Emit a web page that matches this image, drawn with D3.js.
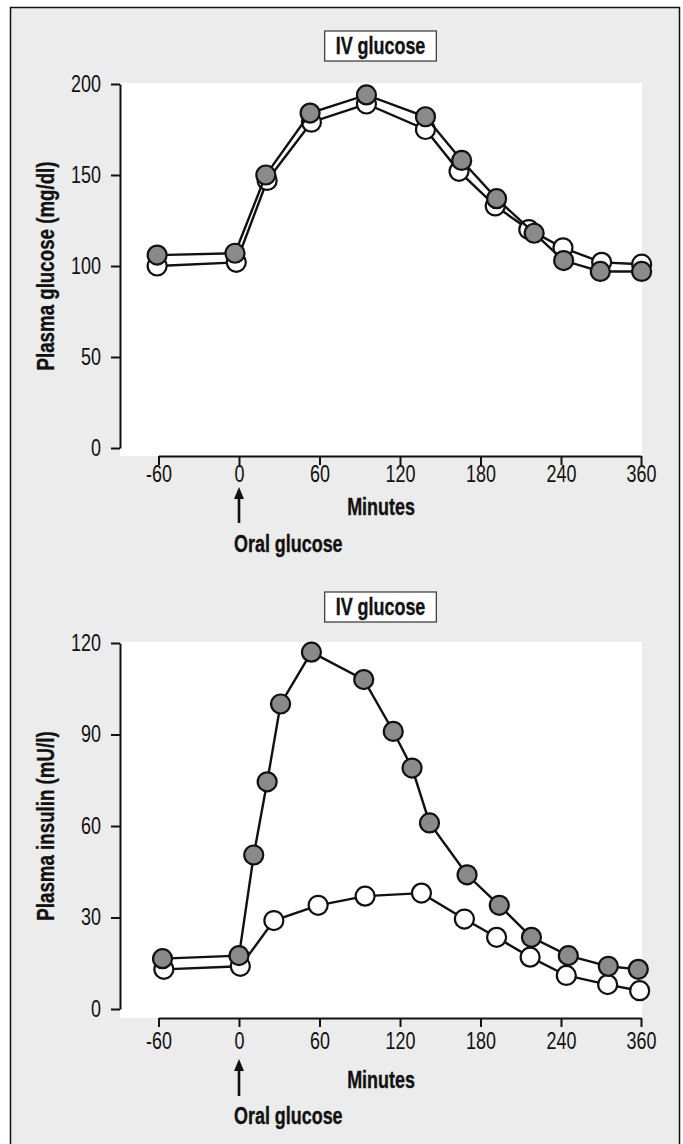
<!DOCTYPE html>
<html>
<head>
<meta charset="utf-8">
<script src="https://cdn.jsdelivr.net/npm/d3@7/dist/d3.min.js"></script>
<style>
  html, body { margin: 0; padding: 0; background: #fff; }
  svg { display: block; }
  text { font-family: "Liberation Sans", Arial, Helvetica, sans-serif; fill: #111; }
</style>
</head>
<body>
<div id="chart"></div>
<script>
// ---------- data ----------
const xTickValues = [-60, 0, 60, 120, 180, 240, 360];
const xTickLabels = ["-60", "0", "60", "120", "180", "240", "360"];

const glucoseTicks = [0, 50, 100, 150, 200];
const insulinTicks = [0, 30, 60, 90, 120];

// Plasma glucose (mg/dl) — open circles (oral) and filled circles (IV)
const glucoseOralTimes  = [-61, -2, 21, 54, 95, 139, 164, 191, 216, 243, 301, 361];
const glucoseOralValues = [100, 102, 147, 179, 189, 175, 152, 133, 120, 110, 102, 101];
const glucoseIVTimes    = [-61, -3, 20, 53, 95, 139, 166, 192, 220, 244, 299, 361];
const glucoseIVValues   = [106, 107, 150, 184, 194, 182, 158, 137, 118, 103, 97, 97];

// Plasma insulin (mU/l)
const insulinOralTimes  = [-56, 1, 26, 59, 94, 136, 168, 192, 217, 248, 310, 358];
const insulinOralValues = [13, 14, 29, 34, 37, 38, 29.5, 23.5, 17, 11, 8, 6];
const insulinIVTimes    = [-57, 0, 11, 21, 31, 54, 93, 115, 129, 142, 170, 194, 218, 251, 311, 356];
const insulinIVValues   = [16.5, 17.5, 50.5, 74.5, 100, 117, 108, 91, 79, 61, 44, 34, 23.5, 17.5, 14, 13];

// ---------- layout ----------
const W = 683, H = 1144;
const SX = 0.78; // horizontal condensing of the type
const svg = d3.select("#chart").append("svg").attr("width", W).attr("height", H);

svg.append("rect").attr("x", 0).attr("y", 0).attr("width", W).attr("height", H).attr("fill", "#fff");
svg.append("rect").attr("x", 10.5).attr("y", 7.5).attr("width", 669).attr("height", H + 20)
  .attr("fill", "#ececec").attr("stroke", "#111").attr("stroke-width", 1.5);

const x = d3.scaleLinear().domain([-60, 240, 360]).range([158.5, 561, 641]);

function label(g, tx, ty, txt, opts = {}) {
  return g.append("text")
    .attr("transform", `translate(${tx},${ty})${opts.rotate ? " rotate(" + opts.rotate + ")" : ""} scale(${SX},1)`)
    .attr("text-anchor", opts.anchor || "middle")
    .attr("dominant-baseline", "central")
    .attr("font-weight", opts.weight || "bold")
    .attr("font-size", opts.size || 23)
    .attr("stroke", "#111").attr("stroke-width", 0.35)
    .text(txt);
}

function condenseAxisText(sel) {
  sel.selectAll("text").each(function () {
    const t = d3.select(this);
    const tx = +t.attr("x") || 0, ty = +t.attr("y") || 0;
    t.attr("x", 0).attr("y", 0).attr("transform", `translate(${tx},${ty}) scale(${SX},1)`)
      .attr("font-size", 23).attr("fill", "#111");
  });
  sel.attr("font-family", null);
}

function panel(cfg) {
  const g = svg.append("g");
  const y = d3.scaleLinear().domain([0, cfg.yMax]).range([cfg.y0, cfg.yTop]);

  // white plot background
  g.append("rect").attr("x", 120).attr("y", cfg.yTop - 1)
    .attr("width", 522).attr("height", cfg.axisY - cfg.yTop + 1).attr("fill", "#fff");

  // title box
  const tb = g.append("g");
  const tt = label(tb, 380.5, cfg.titleY, "IV glucose");
  const tw = tt.node().getBBox().width * SX;
  tb.insert("rect", "text").attr("x", 380.5 - tw / 2 - 11).attr("y", cfg.titleY - 15)
    .attr("width", tw + 22).attr("height", 30)
    .attr("fill", "#fff").attr("stroke", "#333").attr("stroke-width", 1.2);

  // y axis
  const ya = g.append("g").attr("transform", "translate(120,0)")
    .call(d3.axisLeft(y).tickValues(cfg.yTicks).tickSize(9).tickSizeOuter(0).tickPadding(10));
  ya.selectAll("path, line").attr("stroke", "#111").attr("stroke-width", 2);
  condenseAxisText(ya);

  // x axis
  const xa = g.append("g").attr("transform", `translate(0,${cfg.axisY})`)
    .call(d3.axisBottom(x).tickValues(xTickValues).tickFormat((d, i) => xTickLabels[i])
      .tickSize(9).tickSizeOuter(0).tickPadding(cfg.xPad));
  xa.selectAll("path, line").attr("stroke", "#111").attr("stroke-width", 2);
  condenseAxisText(xa);

  // axis titles
  label(g, 46, (cfg.yTop + cfg.y0) / 2, cfg.yTitle, { rotate: -90, size: 24 });
  label(g, 381, cfg.minutesY, "Minutes");

  // arrow for oral glucose
  const ax = x(0);
  g.append("line").attr("x1", ax).attr("x2", ax).attr("y1", cfg.arrowBottom).attr("y2", cfg.arrowTop + 10)
    .attr("stroke", "#111").attr("stroke-width", 2.6);
  g.append("path").attr("d", `M${ax - 5},${cfg.arrowTop + 12} L${ax},${cfg.arrowTop} L${ax + 5},${cfg.arrowTop + 12} Z`)
    .attr("fill", "#111");
  label(g, 234, cfg.oralY, "Oral glucose", { anchor: "start" });

  const line = d3.line().x(d => x(d[0])).y(d => y(d[1]));
  function series(times, vals, fill) {
    const pts = times.map((t, i) => [t, vals[i]]);
    g.append("path").datum(pts).attr("d", line).attr("fill", "none").attr("stroke", "#111").attr("stroke-width", 2.4);
    g.selectAll(null).data(pts).enter().append("circle")
      .attr("cx", d => x(d[0])).attr("cy", d => y(d[1])).attr("r", 9.5)
      .attr("fill", fill).attr("stroke", "#111").attr("stroke-width", 2.2);
  }
  series(cfg.oralT, cfg.oralV, "#fff");
  series(cfg.ivT, cfg.ivV, "#8a8a8a");
}

panel({ yMax: 200, yTop: 84, y0: 448, axisY: 456, xPad: 1, titleY: 46, yTicks: glucoseTicks,
  minutesY: 507, arrowTop: 487, arrowBottom: 523, oralY: 544,
  yTitle: "Plasma glucose (mg/dl)",
  oralT: glucoseOralTimes, oralV: glucoseOralValues, ivT: glucoseIVTimes, ivV: glucoseIVValues });

panel({ yMax: 120, yTop: 643, y0: 1009, axisY: 1018, xPad: 6, titleY: 607, yTicks: insulinTicks,
  minutesY: 1080, arrowTop: 1059, arrowBottom: 1096, oralY: 1116,
  yTitle: "Plasma insulin (mU/l)",
  oralT: insulinOralTimes, oralV: insulinOralValues, ivT: insulinIVTimes, ivV: insulinIVValues });
</script>
</body>
</html>
